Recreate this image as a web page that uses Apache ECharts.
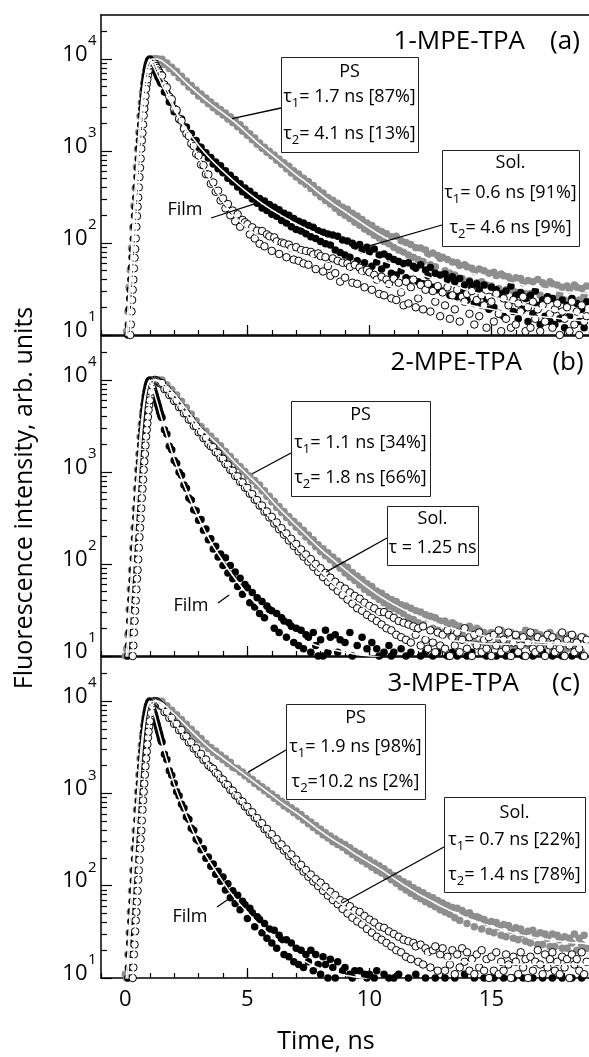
<!DOCTYPE html>
<html>
<head>
<meta charset="utf-8">
<script src="https://cdn.jsdelivr.net/npm/echarts@6/dist/echarts.min.js"></script>
<style>
html, body { margin: 0; padding: 0; background: #fff; }
#chart { width: 589px; height: 1057px; }
</style>
</head>
<body>
<div id="chart"></div>
<script>
// Detector time bins (ns): 50 ps steps across the rise, 100 ps steps in the decay.
const timeNs = [];
for (let i = 0; i < 30; i++) timeNs.push(Math.round(i * 5) / 100);
for (let i = 15; i <= 189; i++) timeNs.push(i / 10);
// Interleaved bins on the rising edge (0.025, 0.075, ... 1.475 ns).
const riseMidNs = [];
for (let i = 0; i < 30; i++) riseMidNs.push(Math.round(i * 50 + 25) / 1000);

// Time points of the fitted decay curves (ns).
const fitTimeNs = [];
for (let i = 0; i <= 30; i++) fitTimeNs.push(Math.round(i * 5) / 100);
for (let i = 4; i <= 38; i++) fitTimeNs.push(i / 2);

// Axis tick values
const xLabelTicks = [0, 5, 10, 15];
const yDecadeTicks = [10, 100, 1000, 10000];
const yMinorTicks = [20, 30, 40, 50, 60, 70, 80, 90, 200, 300, 400, 500, 600, 700, 800, 900,
  2000, 3000, 4000, 5000, 6000, 7000, 8000, 9000, 20000];

// ---------- (a) 1-MPE-TPA : counts ----------
const psA = [9, 11, 18, 33, 51, 88, 146, 254, 394, 668, 1040, 1600, 2380, 3330, 4340, 5520, 6580, 7620, 8480, 9150, 9530, 9790, 9900, 9980, 10050, 10050, 10000, 9900, 9770, 9620,
  9900, 8700, 9000, 7850, 8100, 7100, 7350, 6250, 6500, 5600, 5750, 4950, 5150, 4450, 4600,
  3950, 4150, 3600, 3750, 3250, 3400, 2950, 3100, 2680, 2820, 2450, 2580, 2220, 2350, 2030,
  2150, 1830, 1920, 1640, 1720, 1480, 1540, 1320, 1380, 1180, 1220, 1070, 1100, 970, 995,
  880, 905, 790, 815, 715, 745, 640, 680, 575, 610, 520, 560, 470, 505, 435,
  465, 390, 420, 352, 378, 318, 350, 290, 312, 265, 292, 238, 270, 215, 245,
  200, 232, 185, 210, 168, 196, 156, 180, 142, 165, 132, 155, 121, 141, 113,
  133, 104, 126, 98, 117, 90, 118, 84, 106, 80, 101, 74, 96, 70, 89,
  66, 88, 63, 84, 75, 58, 78, 55, 73, 68, 70, 50, 66, 47, 62,
  45, 61, 57, 41, 58, 55, 39, 53, 49, 37, 52, 38, 50, 35, 47,
  34, 48, 44, 32, 46, 44, 31, 43, 39, 30, 42, 29, 41, 37, 28,
  39, 28, 38, 30, 40, 27, 37, 34, 26, 38, 36, 25, 35, 28, 33,
  24, 34, 31, 25, 35, 33, 24, 32, 27, 34];
const solA = [4, 6, 10, 19, 31, 54, 85, 151, 246, 405, 652, 1060, 1570, 2420, 3370, 4700, 6000, 7450, 8680, 9560, 10000, 9300, 8740, 8190, 7790, 7210, 6780, 6290, 5980, 5530,
  5500, 4380, 4250, 3400, 3330, 2670, 2690, 2200, 2220, 1820, 1820, 1530, 1550, 1290, 1300,
  1110, 1100, 965, 955, 840, 850, 720, 760, 640, 690, 580, 610, 505, 545, 460,
  490, 405, 440, 360, 395, 330, 365, 300, 330, 270, 305, 240, 285, 225, 262,
  205, 245, 195, 230, 175, 210, 165, 200, 150, 185, 140, 172, 135, 165, 126,
  155, 117, 148, 112, 136, 104, 131, 98, 125, 95, 122, 84, 118, 79, 108,
  74, 105, 70, 99, 92, 64, 96, 84, 61, 90, 80, 56, 86, 62, 74,
  52, 76, 58, 71, 47, 66, 45, 63, 50, 60, 42, 61, 40, 56, 53,
  38, 58, 36, 51, 44, 54, 33, 47, 31, 45, 30, 46, 40, 27, 43,
  38, 26, 41, 29, 35, 24, 38, 33, 22, 36, 31, 21, 35, 25, 19,
  33, 20, 31, 17, 28, 16, 30, 22, 34, 18, 27, 15, 29, 19, 25,
  14, 27, 17, 30, 21, 13, 24, 16, 26, 14, 25, 13, 22, 15, 24,
  12, 21, 16, 25, 13, 22, 14, 19, 12, 23];
const solAMid = [5, 8, 13, 25, 40, 70, 111, 198, 310, 520, 820, 1300, 1930, 2880, 3950, 5350, 6650, 8080, 9080, 9800, 9640, 9050, 8440, 8010, 7470, 7020, 6500, 6160, 5720, 5410];
const filmA = [3, 4, 5, 7, 10, 18, 31, 53, 86, 150, 248, 402, 655, 1060, 1570, 2420, 3360, 4720, 5980, 7460, 8480, 9150, 9330, 9180, 8920, 8380, 7980, 7470, 7100, 6650,
  6600, 5250, 4900, 3880, 3650, 2880, 2780, 2240, 2130, 1740, 1540, 1450, 1200, 1130, 930,
  890, 710, 700, 560, 555, 440, 455, 360, 370, 290, 305, 238, 265, 200, 225,
  172, 205, 150, 178, 168, 160, 124, 148, 112, 136, 98, 135, 92, 124, 118,
  82, 115, 104, 76, 101, 99, 70, 96, 88, 66, 90, 64, 84, 60, 82,
  58, 80, 75, 52, 77, 72, 49, 70, 56, 44, 68, 47, 64, 38, 61,
  42, 60, 55, 37, 58, 36, 54, 49, 33, 51, 48, 31, 45, 40, 28,
  43, 27, 40, 36, 25, 41, 24, 37, 29, 21, 38, 22, 33, 40, 20,
  25, 35, 19, 31, 36, 18, 30, 23, 34, 16, 29, 21, 33, 15, 27,
  19, 31, 14, 26, 23, 28, 17, 30, 13, 24, 16, 27, 21, 12, 26,
  23, 14, 28, 17, 11, 25, 15, 21, 12, 24, 13, 22, 18, 26, 11,
  20, 12, 23, 15, 19, 11, 21, 14, 24, 17, 12, 19, 22, 10, 18,
  15, 20, 11, 23, 13, 18, 10, 21, 14, 16];
const filmAMid = [3, 4, 6, 8, 13, 24, 40, 69, 112, 196, 312, 520, 825, 1300, 1940, 2870, 3950, 5330, 6650, 7950, 8830, 9270, 9290, 9040, 8680, 8170, 7750, 7270, 6900, 6470];
const fitPsA = [9, 11, 18, 32, 52, 87, 148, 251, 398, 661, 1047, 1585, 2399, 3311, 4365, 5495, 6607, 7586, 8511, 9120, 9550, 9772, 9900, 9980, 10000, 10000, 10000, 9900, 9770, 9660, 9550,
  7413, 5495, 4169, 3236, 2570, 2042, 1549, 1175, 912, 708, 550, 437, 339, 269, 219, 178, 145, 120, 102, 87,
  76, 66, 59, 52, 47.9, 44.7, 40.7, 38, 36.3, 33.9, 32.4, 30.9, 29.5, 28.8, 28.2];
const fitSolA = [4, 6, 10, 18, 32, 52, 87, 148, 251, 398, 661, 1047, 1585, 2399, 3388, 4677, 6026, 7413, 8710, 9550, 10000, 9330, 8710, 8220, 7760, 7240, 6760, 6310, 5960, 5560, 5248,
  2818, 1738, 1148, 813, 603, 457, 355, 282, 229, 191, 162, 138, 120, 105, 91, 81, 72, 65, 58, 51,
  46, 41.7, 37.2, 33.9, 30.9, 28.2, 26.3, 24, 22.4, 20.9, 19.5, 18.6, 17.8, 17, 16.2];
const fitFilmA = [3, 4, 5, 7, 10, 18, 32, 52, 87, 148, 251, 398, 661, 1047, 1585, 2399, 3388, 4677, 6026, 7413, 8510, 9120, 9330, 9200, 8900, 8410, 7940, 7500, 7080, 6680, 6310,
  3020, 1585, 851, 468, 282, 191, 145, 117, 100, 87, 78, 71, 63, 58, 51, 46, 41, 36, 33, 30,
  28, 26.3, 24.5, 23, 21.4, 20, 19, 17.8, 17, 16.2, 15.8, 15.5, 14.8, 14.5, 14.1];

// ---------- (b) 2-MPE-TPA : counts ----------
const psB = [10, 12, 17, 32, 53, 86, 150, 248, 401, 655, 1055, 1570, 2410, 3300, 4380, 5480, 6620, 7570, 8530, 9100, 9560, 9760, 9890, 9990, 10050, 10040, 10000, 9980, 9850, 9700,
  9950, 8600, 8850, 7650, 7850, 6750, 6850, 5800, 5850, 4950, 5000, 4200, 4250, 3550, 3600,
  3000, 3120, 2680, 2760, 2380, 2440, 2110, 2170, 1880, 1920, 1700, 1670, 1490, 1470, 1310,
  1290, 1155, 1145, 1025, 1010, 910, 905, 800, 805, 710, 720, 625, 625, 545, 545,
  470, 480, 412, 420, 362, 372, 320, 328, 283, 292, 250, 262, 222, 232, 196,
  206, 174, 183, 154, 162, 137, 146, 123, 132, 111, 119, 100, 108, 90, 98,
  80, 92, 72, 81, 66, 74, 59, 68, 53, 61, 49, 57, 45, 51, 41,
  48, 38, 44, 35, 41, 33, 39, 31, 36, 29, 35, 26, 33, 25, 31,
  23, 30, 22, 28, 26, 27, 20, 26, 19, 24, 18, 24, 22, 17, 23,
  22, 16, 21, 17, 20, 15, 21, 19, 14, 20, 19, 14, 18, 16, 13,
  18, 13, 17, 15, 19, 12, 17, 14, 18, 13, 16, 12, 17, 14, 19,
  13, 16, 12, 18, 14, 17, 12, 15, 13, 18, 11, 16, 14, 17, 12,
  15, 12, 17, 13, 16, 12, 15, 11, 16, 14];
const filmB = [4, 6, 10, 18, 32, 53, 86, 148, 250, 400, 660, 1050, 1590, 2400, 3390, 4680, 6020, 7420, 8700, 9550, 10000, 9150, 8390, 7780, 7050, 6330, 5670, 5150, 4550, 4140,
  3900, 2870, 2580, 1900, 1740, 1330, 1240, 990, 920, 720, 665, 520, 495, 388, 378,
  298, 305, 232, 240, 183, 188, 145, 156, 119, 128, 96, 117, 80, 96, 69,
  82, 57, 70, 47, 60, 55, 38, 49, 34, 43, 29, 39, 26, 35, 32,
  31, 20, 29, 18, 26, 24, 16, 23, 21, 14, 20, 13, 19, 12, 17,
  16, 11, 18, 13, 10, 15, 10, 19, 11, 16, 9, 17, 11, 15, 9,
  14, 8, 18, 10, 9, 13, 9, 16, 8, 12, 9, 14, 8, 12, 10,
  8, 11, 9, 13, 10, 11, 8, 9, 12, 7, 10, 8, 11, 7, 9,
  8, 10, 7, 11, 9, 7, 10, 8, 11, 8, 9, 7, 10, 8, 11,
  8, 10, 7, 9, 8, 10, 8, 11, 7, 9, 7, 9, 8, 10, 8,
  9, 7, 10, 8, 9, 8, 10, 7, 9, 11, 7, 9, 8, 10, 7,
  9, 8, 10, 7, 9, 8, 11, 7, 9, 8, 10, 7, 9, 8, 10,
  7, 9, 8, 10, 8, 9, 7, 10, 8, 9];
const filmBMid = [5, 8, 13, 24, 41, 67, 115, 190, 320, 510, 840, 1280, 1960, 2830, 4010, 5280, 6710, 8010, 9150, 9760, 9580, 8760, 8110, 7400, 6680, 6010, 5400, 4850, 4330, 3950];
const solB = [2, 3, 3, 4, 5, 7, 10, 18, 31, 53, 86, 150, 248, 402, 655, 1055, 1570, 2420, 3370, 4710, 6000, 7440, 8680, 9570, 10000, 9890, 9770, 9550, 9330, 9120,
  9250, 7950, 7950, 6850, 6900, 5900, 5950, 5050, 5050, 4330, 4330, 3700, 3700, 3170, 3150,
  2700, 2720, 2330, 2340, 2020, 1900, 1860, 1640, 1600, 1420, 1390, 1220, 1200, 1050, 1030,
  905, 895, 780, 770, 675, 670, 580, 575, 500, 495, 430, 432, 370, 372, 320,
  325, 275, 283, 238, 245, 208, 215, 180, 188, 157, 165, 137, 144, 120, 127,
  106, 113, 93, 100, 82, 90, 72, 80, 64, 71, 57, 64, 51, 58, 46,
  54, 41, 49, 37, 45, 33, 42, 31, 38, 28, 35, 26, 33, 24, 30,
  22, 30, 20, 28, 19, 26, 17, 24, 16, 23, 15, 22, 14, 21, 17,
  20, 13, 21, 15, 12, 19, 14, 11, 18, 13, 17, 12, 19, 10, 16,
  13, 18, 11, 15, 20, 12, 16, 10, 17, 13, 18, 11, 15, 12, 16,
  10, 17, 13, 19, 11, 15, 12, 18, 10, 14, 17, 11, 13, 16, 10,
  14, 18, 12, 11, 16, 12, 15, 10, 17, 13, 16, 11, 14, 12, 18,
  10, 15, 13, 17, 11, 14, 12, 16, 10, 15];
const solBMid = [2, 2, 3, 4, 6, 8, 13, 24, 40, 69, 112, 196, 312, 520, 825, 1300, 1940, 2870, 3950, 5330, 6650, 8080, 9080, 9800, 9950, 9830, 9660, 9440, 9230, 9150];
const fitPsB = [9, 11, 18, 32, 52, 87, 148, 251, 398, 661, 1047, 1585, 2399, 3311, 4365, 5495, 6607, 7586, 8511, 9120, 9550, 9772, 9900, 9980, 10000, 10000, 10000, 9900, 9770, 9660, 9550,
  7079, 4786, 3162, 2344, 1738, 1259, 933, 692, 490, 355, 263, 195, 145, 112, 87, 68, 54, 43.6, 36.3, 30.9,
  26.9, 24, 21.4, 19.5, 18.2, 17, 15.8, 15.3, 14.8, 14.5, 14.1, 14, 13.8, 13.6, 13.5];
const fitFilmB = [4, 6, 10, 18, 32, 52, 87, 148, 251, 398, 661, 1047, 1585, 2399, 3388, 4677, 6026, 7413, 8710, 9550, 10000, 9120, 8410, 7760, 7080, 6310, 5690, 5130, 4570, 4120, 3715,
  1380, 631, 316, 174, 107, 69, 47, 34, 25.7, 20.4, 16.6, 14.1, 12.6, 11.7, 11, 10.4, 10, 9.6, 9.3, 9.1,
  8.9, 8.9, 8.9, 8.9, 8.9, 8.9, 8.9, 8.9, 8.9, 8.9, 8.9, 8.9, 8.9, 8.9, 8.9];
const fitSolB = [2, 3, 3, 4, 5, 7, 10, 18, 32, 52, 87, 148, 251, 398, 661, 1047, 1585, 2399, 3388, 4677, 6026, 7413, 8710, 9550, 10000, 9890, 9770, 9550, 9330, 9120, 8913,
  6166, 4169, 2818, 1950, 1349, 933, 646, 447, 309, 219, 155, 112, 83, 61.7, 47.9, 38, 30.9, 25.7, 21.9, 19.1,
  17.4, 16.2, 15.1, 14.6, 14.1, 13.8, 13.5, 13.5, 13.4, 13.4, 13.3, 13.3, 13.2, 13.2, 13.1];

// ---------- (c) 3-MPE-TPA : counts ----------
const psC = [11, 10, 18, 31, 52, 88, 146, 253, 395, 664, 1040, 1595, 2390, 3320, 4350, 5510, 6590, 7600, 8490, 9130, 9540, 9780, 9910, 9970, 10040, 10060, 10000, 9970, 9860, 9720,
  9950, 8700, 8900, 7800, 7950, 6950, 7100, 6150, 6300, 5480, 5600, 4850, 4950, 4300, 4400,
  3820, 3930, 3420, 3500, 3060, 3140, 2770, 2870, 2530, 2600, 2310, 2380, 2110, 2170, 1920,
  1870, 1860, 1700, 1700, 1550, 1550, 1410, 1420, 1280, 1290, 1170, 1180, 1065, 1080, 970,
  985, 885, 900, 805, 820, 730, 760, 675, 700, 615, 645, 565, 590, 515, 535,
  470, 490, 428, 448, 390, 408, 355, 375, 328, 345, 300, 320, 280, 297, 260,
  280, 238, 258, 218, 236, 200, 222, 185, 204, 172, 190, 158, 176, 146, 164,
  137, 153, 126, 140, 116, 129, 106, 119, 97, 110, 90, 104, 83, 95, 77,
  89, 72, 84, 67, 78, 63, 74, 59, 69, 55, 65, 52, 61, 49, 58,
  45, 57, 42, 54, 50, 39, 51, 47, 36, 46, 45, 34, 43, 40, 32,
  41, 31, 40, 36, 29, 38, 28, 37, 33, 27, 35, 26, 34, 30, 25,
  32, 24, 33, 29, 23, 31, 23, 30, 27, 22, 30, 22, 29, 26, 21,
  28, 21, 27, 24, 30, 20, 27, 23, 29, 21];
const filmC = [3, 6, 10, 18, 31, 53, 88, 147, 253, 397, 664, 1040, 1600, 2390, 3400, 4650, 6050, 7380, 8740, 9530, 10000, 9100, 8350, 7560, 6950, 6140, 5530, 4870, 4390, 3860,
  3600, 2650, 2320, 1760, 1570, 1290, 1040, 945, 760, 695, 555, 525, 420, 398, 318,
  305, 245, 252, 198, 205, 162, 172, 133, 143, 112, 124, 90, 105, 74, 88,
  64, 79, 55, 68, 62, 44, 57, 51, 36, 46, 43, 31, 39, 27, 34,
  24, 33, 21, 29, 26, 18, 26, 17, 24, 15, 21, 14, 20, 13, 18,
  15, 20, 12, 18, 14, 11, 17, 14, 10, 16, 13, 10, 15, 9, 12,
  13, 8, 11, 10, 12, 9, 12, 8, 11, 10, 11, 8, 10, 12, 7,
  9, 11, 8, 10, 7, 10, 8, 11, 7, 9, 8, 10, 7, 9, 11,
  7, 9, 8, 10, 8, 9, 7, 10, 8, 9, 8, 10, 7, 9, 8,
  10, 7, 9, 8, 11, 7, 9, 8, 10, 7, 9, 8, 10, 7, 9,
  8, 10, 7, 9, 8, 10, 7, 9, 8, 10, 7, 9, 8, 10, 7,
  9, 8, 10, 7, 9, 8, 10, 7, 9, 8, 10, 7, 9, 8, 10,
  7, 9, 8, 10, 8, 9, 8, 10, 7, 9];
const filmCMid = [5, 8, 13, 24, 41, 68, 113, 195, 314, 515, 830, 1290, 1940, 2860, 3970, 5320, 6660, 8060, 9100, 9780, 9560, 8720, 7960, 7250, 6540, 5830, 5190, 4620, 4120, 3700];
const solC = [2, 3, 3, 4, 5, 7, 10, 18, 32, 52, 88, 147, 252, 396, 664, 1040, 1590, 2390, 3400, 4660, 6040, 7390, 8730, 9540, 10000, 9930, 9780, 9500, 9200, 8860,
  8850, 7600, 7650, 6550, 6600, 5650, 5650, 4830, 4850, 4150, 4140, 3560, 3570, 3060, 3080,
  2650, 2680, 2300, 2330, 2010, 1920, 1850, 1670, 1610, 1450, 1410, 1260, 1230, 1090, 1070,
  950, 935, 830, 815, 720, 715, 625, 625, 545, 540, 470, 475, 410, 412, 358,
  362, 312, 320, 272, 280, 240, 248, 210, 218, 183, 192, 162, 168, 142, 148,
  125, 132, 111, 118, 99, 108, 88, 97, 78, 86, 70, 79, 63, 70, 56,
  66, 50, 60, 45, 54, 41, 52, 38, 47, 34, 43, 31, 40, 28, 36,
  26, 35, 24, 32, 22, 30, 20, 28, 19, 26, 17, 25, 16, 24, 22,
  15, 23, 14, 21, 19, 13, 20, 22, 12, 18, 21, 12, 17, 14, 20,
  11, 18, 13, 21, 15, 19, 12, 16, 11, 18, 13, 20, 12, 16, 10,
  17, 12, 19, 11, 15, 12, 18, 14, 10, 17, 15, 11, 19, 13, 16,
  10, 17, 12, 15, 20, 14, 11, 18, 13, 16, 19, 12, 15, 11, 17,
  13, 16, 10, 18, 14, 16, 12, 19, 11, 15];
const solCMid = [2, 2, 3, 4, 6, 8, 13, 23, 42, 67, 116, 190, 320, 508, 840, 1275, 1965, 2840, 4010, 5290, 6710, 8000, 9150, 9760, 9970, 9860, 9640, 9350, 9030, 8900];
const fitPsC = [9, 11, 18, 32, 52, 87, 148, 251, 398, 661, 1047, 1585, 2399, 3311, 4365, 5495, 6607, 7586, 8511, 9120, 9550, 9772, 9900, 9980, 10000, 10000, 10000, 9900, 9770, 9660, 9550,
  7244, 5370, 3981, 3020, 2399, 1905, 1514, 1202, 955, 759, 617, 490, 389, 316, 263, 214, 178, 148, 120, 98,
  81.3, 69.2, 58.9, 51.3, 44.7, 39.8, 36.3, 33.1, 30.2, 28.2, 26.9, 25.7, 24.5, 24, 23.4];
const fitFilmC = [4, 6, 10, 18, 32, 52, 87, 148, 251, 398, 661, 1047, 1585, 2399, 3388, 4677, 6026, 7413, 8710, 9550, 10000, 9120, 8320, 7590, 6920, 6170, 5500, 4900, 4365, 3890, 3467,
  1259, 575, 288, 174, 110, 72.4, 51.3, 37.2, 28.2, 21.9, 17.4, 14.5, 12.6, 11.6, 10.7, 10.2, 9.6, 9.2, 8.9, 8.9,
  8.9, 8.9, 8.9, 8.9, 8.9, 8.9, 8.9, 8.9, 8.9, 8.9, 8.9, 8.9, 8.9, 8.9, 8.9];
const fitSolC = [2, 3, 3, 4, 5, 7, 10, 18, 32, 52, 87, 148, 251, 398, 661, 1047, 1585, 2399, 3388, 4677, 6026, 7413, 8710, 9550, 10000, 9930, 9780, 9500, 9200, 8860, 8511,
  5888, 3981, 2754, 1950, 1380, 977, 692, 490, 347, 251, 182, 132, 100, 76, 58.9, 46.8, 37.2, 30.2, 25.1, 21.4,
  18.6, 17, 15.8, 15.3, 14.8, 14.5, 14.1, 14.1, 14.1, 14.1, 14.1, 14.1, 14.1, 14.1, 14.1];

const FONT = 'Open Sans';
const INK = '#000';

// Each panel: gray filled = PS, black filled, open circles, plus three fitted curves.
const panels = [
  { title: '1-MPE-TPA', tag: '(a)', top: 15, height: 320, titleRight: 525, tagX: 565,
    gray: [psA, null], black: [solA, solAMid], open: [filmA, filmAMid], fits: [fitPsA, fitSolA, fitFilmA],
    names: ['PS', 'Sol.', 'Film'] },
  { title: '2-MPE-TPA', tag: '(b)', top: 336, height: 320, titleRight: 522, tagX: 568,
    gray: [psB, null], black: [filmB, filmBMid], open: [solB, solBMid], fits: [fitPsB, fitFilmB, fitSolB],
    names: ['PS', 'Film', 'Sol.'] },
  { title: '3-MPE-TPA', tag: '(c)', top: 657, height: 321, titleRight: 519, tagX: 566,
    gray: [psC, null], black: [filmC, filmCMid], open: [solC, solCMid], fits: [fitPsC, fitFilmC, fitSolC],
    names: ['PS', 'Film', 'Sol.'] }
];

const pair = (xs, ys) => ys.map((v, k) => [xs[k], v]);
const points = ([main, mid]) => (mid ? pair(riseMidNs, mid) : []).concat(pair(timeNs, main));
const axisLineStyle = { color: INK, width: 1.5 };

const grid = [], xAxis = [], yAxis = [], series = [];
panels.forEach((p, i) => {
  grid.push({ left: 101, right: 0, top: p.top, height: p.height, containLabel: false });
  const last = i === panels.length - 1;
  // 1 ns ticks along the bottom
  xAxis.push({
    gridIndex: i, type: 'value', min: -1, max: 19, interval: 1, position: 'bottom',
    axisLine: { show: true, onZero: false, lineStyle: axisLineStyle },
    axisTick: { show: true, inside: true, length: 5, lineStyle: { color: INK, width: 1.2 } },
    axisLabel: last ? { show: true, customValues: xLabelTicks, fontSize: 22, fontFamily: FONT, color: INK, margin: 11 } : { show: false },
    splitLine: { show: false }
  });
  // 5 ns ticks (longer)
  xAxis.push({
    gridIndex: i, type: 'value', min: -1, max: 19, position: 'bottom',
    axisLine: { show: false, onZero: false },
    axisTick: { show: true, inside: true, length: 10, customValues: xLabelTicks, lineStyle: { color: INK, width: 1.2 } },
    axisLabel: { show: false }, splitLine: { show: false }
  });
  // top frame
  xAxis.push({
    gridIndex: i, type: 'value', min: -1, max: 19, position: 'top',
    axisLine: { show: true, onZero: false, lineStyle: axisLineStyle },
    axisTick: { show: false }, axisLabel: { show: false }, splitLine: { show: false }
  });
  // decade ticks (labels are set as text next to them below)
  yAxis.push({
    gridIndex: i, type: 'log', logBase: 10, min: 10, max: 30000, position: 'left',
    axisLine: { show: true, onZero: false, lineStyle: axisLineStyle },
    axisTick: { show: true, inside: true, length: 11, customValues: yDecadeTicks, lineStyle: { color: INK, width: 1.2 } },
    axisLabel: { show: false },
    splitLine: { show: false }
  });
  // minor ticks 2..9 per decade
  yAxis.push({
    gridIndex: i, type: 'log', logBase: 10, min: 10, max: 30000, position: 'left',
    axisLine: { show: false, onZero: false },
    axisTick: { show: true, inside: true, length: 6, customValues: yMinorTicks, lineStyle: { color: INK, width: 1.2 } },
    axisLabel: { show: false }, splitLine: { show: false }
  });

  const xi = i * 3, yi = i * 2;
  series.push({ type: 'scatter', name: p.names[0], xAxisIndex: xi, yAxisIndex: yi, data: points(p.gray),
    symbolSize: 7.5, itemStyle: { color: '#8e8e8e', opacity: 1 }, clip: true, silent: true, z: 2 });
  series.push({ type: 'scatter', name: p.names[1], xAxisIndex: xi, yAxisIndex: yi, data: points(p.black),
    symbolSize: 7.5, itemStyle: { color: '#000', opacity: 1 }, clip: true, silent: true, z: 3 });
  series.push({ type: 'scatter', name: p.names[2], xAxisIndex: xi, yAxisIndex: yi, data: points(p.open),
    symbolSize: 7.5, itemStyle: { color: '#fff', borderColor: '#000', borderWidth: 1, opacity: 1 }, clip: true, silent: true, z: 4 });
  p.fits.forEach(f => series.push({
    type: 'line', xAxisIndex: xi, yAxisIndex: yi, data: pair(fitTimeNs, f),
    showSymbol: false, symbol: 'none', smooth: 0.25, clip: true, silent: true,
    lineStyle: { color: '#fff', width: 1.5 }, z: 5
  }));
});

const chart = echarts.init(document.getElementById('chart'), null, { renderer: 'canvas', width: 589, height: 1057 });
chart.setOption({
  backgroundColor: '#fff', animation: false,
  textStyle: { fontFamily: FONT },
  grid, xAxis, yAxis, series
});

// ---------- annotations ----------
const subRich = {
  t: { fontSize: 18, fontFamily: FONT, color: INK, verticalAlign: 'top', lineHeight: 22 },
  s: { fontSize: 13, fontFamily: FONT, color: INK, verticalAlign: 'bottom', lineHeight: 13, padding: [13, 0, 0, 0] }
};
const tauLine = (k, rest) => '{t|τ}{s|' + k + '}{t|' + rest + '}';

// Boxes: pixel frame, lines (text, centre y), leader start and leader target in data units.
const notes = [
  { panel: 0, box: [281, 57, 137, 95], lines: [['PS', 72], [tauLine(1, '= 1.7 ns [87%]'), 99], [tauLine(2, '= 4.1 ns [13%]'), 136]],
    from: [281, 108], to: [4.37, 2240] },
  { panel: 0, box: [442, 150, 137, 96], lines: [['Sol.', 163], [tauLine(1, '= 0.6 ns [91%]'), 195], [tauLine(2, '= 4.6 ns [9%]'), 230]],
    from: [442, 225], to: [9.67, 88] },
  { panel: 1, box: [291, 401, 139, 95], lines: [['PS', 415], [tauLine(1, '= 1.1 ns [34%]'), 445], [tauLine(2, '= 1.8 ns [66%]'), 480]],
    from: [291, 453], to: [5.2, 955] },
  { panel: 1, box: [387, 506, 91, 59], lines: [['Sol.', 519], ['{t|τ = 1.25 ns}', 550]],
    from: [387, 538], to: [8.23, 82] },
  { panel: 2, box: [286, 704, 139, 95], lines: [['PS', 718], [tauLine(1, '= 1.9 ns [98%]'), 749], [tauLine(2, '=10.2 ns [2%]'), 784]],
    from: [286, 750], to: [5.03, 1700] },
  { panel: 2, box: [444, 797, 141, 95], lines: [['Sol.', 813], [tauLine(1, '= 0.7 ns [22%]'), 842], [tauLine(2, '= 1.4 ns [78%]'), 877]],
    from: [444, 847], to: [8.89, 65] }
];
const filmNotes = [
  { panel: 0, text: [185, 210], from: [211, 218], to: [5.36, 270] },
  { panel: 1, text: [191, 606], from: [218, 603], to: [4.25, 46] },
  { panel: 2, text: [190, 917], from: [217, 907], to: [4.17, 70] }
];

const toPx = (panel, pt) => chart.convertToPixel({ xAxisIndex: panel * 3, yAxisIndex: panel * 2 }, pt);
const elements = [];
// decade labels 10^n beside each major tick
panels.forEach((p, i) => {
  yDecadeTicks.forEach(v => {
    const y = toPx(i, [0, v])[1];
    elements.push({ type: 'text', z: 22, x: 87.5, y: y - 4.5,
      style: { text: '10', fontSize: 22, fontFamily: FONT, fill: INK, align: 'right', verticalAlign: 'middle' } });
    elements.push({ type: 'text', z: 22, x: 88, y: y - 18,
      style: { text: String(Math.round(Math.log10(v))), fontSize: 15, fontFamily: FONT, fill: INK, align: 'left', verticalAlign: 'middle' } });
  });
});
notes.forEach(n => {
  const end = toPx(n.panel, n.to);
  elements.push({ type: 'line', z: 20, shape: { x1: n.from[0], y1: n.from[1], x2: end[0], y2: end[1] },
    style: { stroke: INK, lineWidth: 1.3 } });
  elements.push({ type: 'rect', z: 21, shape: { x: n.box[0] + 0.5, y: n.box[1] + 0.5, width: n.box[2], height: n.box[3] },
    style: { fill: '#fff', stroke: '#222', lineWidth: 1 } });
  const cx = n.box[0] + n.box[2] / 2;
  n.lines.forEach(([txt, y]) => {
    const rich = txt.indexOf('{') === 0;
    elements.push({ type: 'text', z: 22, x: cx, y: y,
      style: rich ? { text: txt, rich: subRich, align: 'center', verticalAlign: 'middle' }
                  : { text: txt, fontSize: 18, fontFamily: FONT, fill: INK, align: 'center', verticalAlign: 'middle' } });
  });
});
filmNotes.forEach(f => {
  const end = toPx(f.panel, f.to);
  elements.push({ type: 'line', z: 20, shape: { x1: f.from[0], y1: f.from[1], x2: end[0], y2: end[1] },
    style: { stroke: INK, lineWidth: 1.3 } });
  elements.push({ type: 'text', z: 22, x: f.text[0], y: f.text[1],
    style: { text: 'Film', fontSize: 18, fontFamily: FONT, fill: INK, align: 'center', verticalAlign: 'middle' } });
});
panels.forEach(p => {
  const y = p.top + 26.5;
  elements.push({ type: 'text', z: 22, x: p.titleRight, y: y,
    style: { text: p.title, fontSize: 26, fontFamily: FONT, fill: INK, align: 'right', verticalAlign: 'middle' } });
  elements.push({ type: 'text', z: 22, x: p.tagX, y: y,
    style: { text: p.tag, fontSize: 26, fontFamily: FONT, fill: INK, align: 'center', verticalAlign: 'middle' } });
});
// axis titles
elements.push({ type: 'text', z: 22, x: 25, y: 498, rotation: Math.PI / 2,
  style: { text: 'Fluorescence intensity, arb. units', fontSize: 25, fontFamily: FONT, fill: INK, align: 'center', verticalAlign: 'middle' } });
elements.push({ type: 'text', z: 22, x: 326, y: 1042,
  style: { text: 'Time, ns', fontSize: 25, fontFamily: FONT, fill: INK, align: 'center', verticalAlign: 'middle' } });

chart.setOption({ graphic: { elements } });
</script>
</body>
</html>
